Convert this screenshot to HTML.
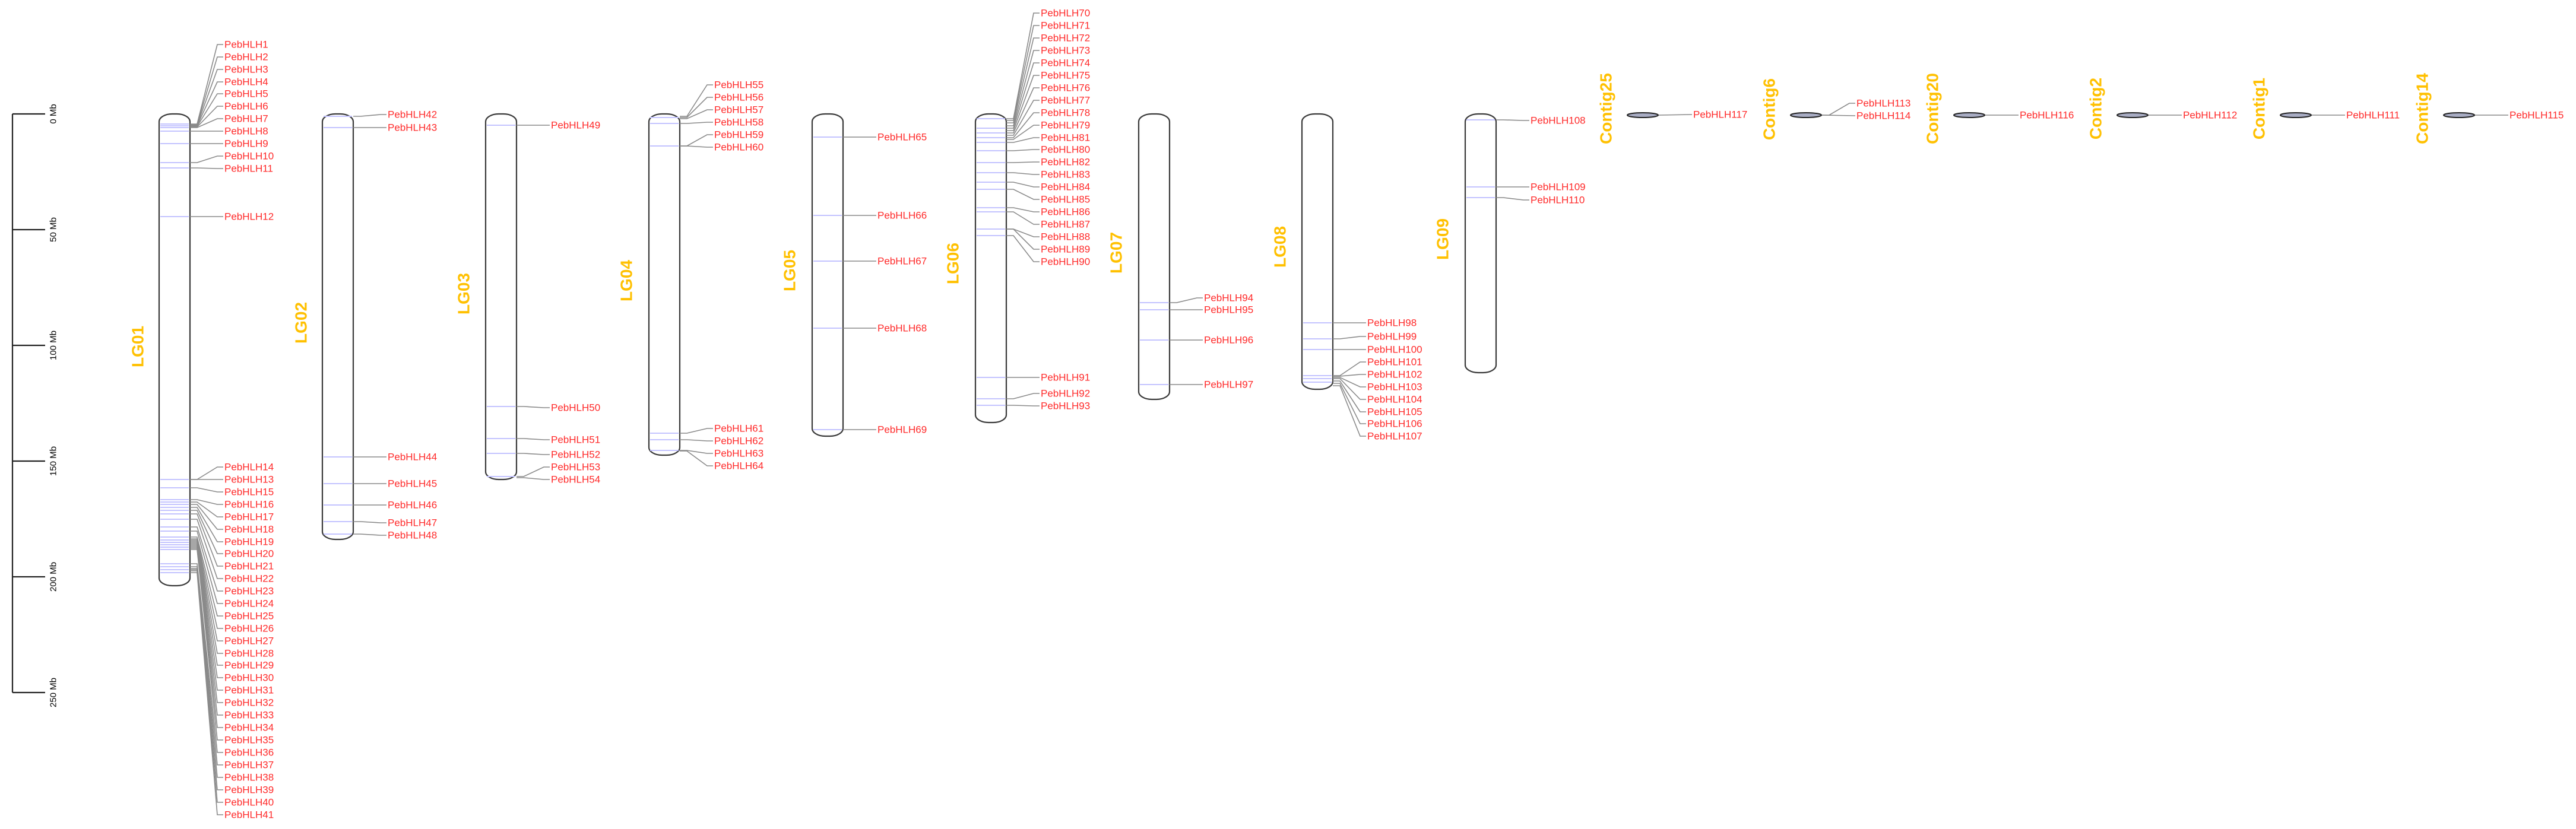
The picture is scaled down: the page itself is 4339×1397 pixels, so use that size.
<!DOCTYPE html>
<html><head><meta charset="utf-8"><style>
html,body{margin:0;padding:0;background:#fff;}
svg{display:block;}
.c{fill:#fff;stroke:#3a3a3a;stroke-width:2.2;}
.m{stroke:#c4c4ff;stroke-width:2;}
.l{fill:none;stroke:#8a8a8a;stroke-width:1.6;}
.t{font-family:"Liberation Sans",Arial,sans-serif;font-size:17px;fill:#ff2a2a;}
.g{font-family:"Liberation Sans",Arial,sans-serif;font-size:28px;font-weight:bold;fill:#ffc000;}
.s{font-family:"Liberation Sans",Arial,sans-serif;font-size:15px;fill:#000;}
.e{fill:#a9adc4;stroke:#222;stroke-width:2;}
</style></head><body>
<svg width="4339" height="1397" viewBox="0 0 4339 1397" xmlns="http://www.w3.org/2000/svg">
<!-- scale bar -->
<g stroke="#222" stroke-width="2.2">
<line x1="21" y1="192" x2="21" y2="1167"/>
<line x1="21" y1="192" x2="76" y2="192"/>
<line x1="21" y1="387" x2="76" y2="387"/>
<line x1="21" y1="582" x2="76" y2="582"/>
<line x1="21" y1="777" x2="76" y2="777"/>
<line x1="21" y1="972" x2="76" y2="972"/>
<line x1="21" y1="1167" x2="76" y2="1167"/>
</g>
<g class="s" text-anchor="middle" dominant-baseline="central">
<text transform="translate(90,192) rotate(-90)">0 Mb</text>
<text transform="translate(90,387) rotate(-90)">50 Mb</text>
<text transform="translate(90,582) rotate(-90)">100 Mb</text>
<text transform="translate(90,777) rotate(-90)">150 Mb</text>
<text transform="translate(90,972) rotate(-90)">200 Mb</text>
<text transform="translate(90,1167) rotate(-90)">250 Mb</text>
</g>

<!-- chromosomes -->
<rect class="c" x="268" y="192" width="52" height="795" rx="22" ry="13"/>
<rect class="c" x="543" y="192" width="52" height="717" rx="22" ry="13"/>
<rect class="c" x="818" y="192" width="52" height="616" rx="22" ry="13"/>
<rect class="c" x="1093" y="192" width="52" height="575" rx="22" ry="13"/>
<rect class="c" x="1368" y="192" width="52" height="543" rx="22" ry="13"/>
<rect class="c" x="1643" y="192" width="52" height="520" rx="22" ry="13"/>
<rect class="c" x="1918" y="192" width="52" height="481" rx="22" ry="13"/>
<rect class="c" x="2193" y="192" width="52" height="464" rx="22" ry="13"/>
<rect class="c" x="2468" y="192" width="52" height="436" rx="22" ry="13"/>

<!-- LG labels -->
<g class="g" text-anchor="middle" dominant-baseline="central">
<text transform="translate(232,584) rotate(-90)">LG01</text>
<text transform="translate(507,544) rotate(-90)">LG02</text>
<text transform="translate(781,495) rotate(-90)">LG03</text>
<text transform="translate(1055,473) rotate(-90)">LG04</text>
<text transform="translate(1330,456) rotate(-90)">LG05</text>
<text transform="translate(1605,444) rotate(-90)">LG06</text>
<text transform="translate(1880,426) rotate(-90)">LG07</text>
<text transform="translate(2156,416) rotate(-90)">LG08</text>
<text transform="translate(2430,403) rotate(-90)">LG09</text>
<text transform="translate(2705,183) rotate(-90)">Contig25</text>
<text transform="translate(2980,184) rotate(-90)">Contig6</text>
<text transform="translate(3255,183) rotate(-90)">Contig20</text>
<text transform="translate(3530,183) rotate(-90)">Contig2</text>
<text transform="translate(3805,183) rotate(-90)">Contig1</text>
<text transform="translate(4080,183) rotate(-90)">Contig14</text>
</g>

<!-- LG01 markers -->
<g class="m">
<line x1="270" x2="318" y1="209" y2="209"/><line x1="270" x2="318" y1="212" y2="212"/><line x1="270" x2="318" y1="215" y2="215"/><line x1="270" x2="318" y1="221" y2="221"/><line x1="270" x2="318" y1="242" y2="242"/><line x1="270" x2="318" y1="274" y2="274"/><line x1="270" x2="318" y1="283" y2="283"/><line x1="270" x2="318" y1="365" y2="365"/>
<line x1="270" x2="318" y1="808" y2="808"/><line x1="270" x2="318" y1="822" y2="822"/><line x1="270" x2="318" y1="842" y2="842"/><line x1="270" x2="318" y1="846" y2="846"/><line x1="270" x2="318" y1="850" y2="850"/><line x1="270" x2="318" y1="855" y2="855"/><line x1="270" x2="318" y1="860" y2="860"/><line x1="270" x2="318" y1="866" y2="866"/><line x1="270" x2="318" y1="875" y2="875"/><line x1="270" x2="318" y1="888" y2="888"/><line x1="270" x2="318" y1="895" y2="895"/><line x1="270" x2="318" y1="905" y2="905"/><line x1="270" x2="318" y1="910" y2="910"/><line x1="270" x2="318" y1="914" y2="914"/><line x1="270" x2="318" y1="918" y2="918"/><line x1="270" x2="318" y1="922" y2="922"/><line x1="270" x2="318" y1="926" y2="926"/><line x1="270" x2="318" y1="950" y2="950"/><line x1="270" x2="318" y1="955" y2="955"/><line x1="270" x2="318" y1="960" y2="960"/><line x1="270" x2="318" y1="965" y2="965"/>
</g>
<g class="l">
<polyline points="320,209 332,209 366,75 376,75"/>
<polyline points="320,210 332,210 366,96 376,96"/>
<polyline points="320,211 332,211 366,117 376,117"/>
<polyline points="320,212 332,212 366,138 376,138"/>
<polyline points="320,213 332,213 366,158 376,158"/>
<polyline points="320,214 332,214 366,179 376,179"/>
<polyline points="320,215 332,215 366,200 376,200"/>
<polyline points="320,221 332,221 366,221 376,221"/>
<polyline points="320,242 332,242 366,242 376,242"/>
<polyline points="320,274 332,274 366,263 376,263"/>
<polyline points="320,283 332,283 366,284 376,284"/>
<polyline points="320,365 332,365 366,365 376,365"/>
<polyline points="320,808 332,808 366,787 376,787"/>
<polyline points="320,808 332,808 366,808 376,808"/>
<polyline points="320,822 332,822 366,829 376,829"/>
<polyline points="320,842 332,842 366,850 376,850"/>
<polyline points="320,846 332,846 366,871 376,871"/>
<polyline points="320,850 332,850 366,892 376,892"/>
<polyline points="320,855 332,855 366,913 376,913"/>
<polyline points="320,860 332,860 366,933 376,933"/>
<polyline points="320,866 332,866 366,954 376,954"/>
<polyline points="320,875 332,875 366,975 376,975"/>
<polyline points="320,888 332,888 366,996 376,996"/>
<polyline points="320,895 332,895 366,1017 376,1017"/>
<polyline points="320,905 332,905 366,1038 376,1038"/>
<polyline points="320,908 332,908 366,1059 376,1059"/>
<polyline points="320,910 332,910 366,1080 376,1080"/>
<polyline points="320,912 332,912 366,1101 376,1101"/>
<polyline points="320,914 332,914 366,1121 376,1121"/>
<polyline points="320,916 332,916 366,1142 376,1142"/>
<polyline points="320,918 332,918 366,1163 376,1163"/>
<polyline points="320,920 332,920 366,1184 376,1184"/>
<polyline points="320,922 332,922 366,1205 376,1205"/>
<polyline points="320,924 332,924 366,1226 376,1226"/>
<polyline points="320,926 332,926 366,1247 376,1247"/>
<polyline points="320,950 332,950 366,1268 376,1268"/>
<polyline points="320,955 332,955 366,1289 376,1289"/>
<polyline points="320,958 332,958 366,1310 376,1310"/>
<polyline points="320,960 332,960 366,1331 376,1331"/>
<polyline points="320,962 332,962 366,1352 376,1352"/>
<polyline points="320,965 332,965 366,1373 376,1373"/>
</g>
<g class="t" dominant-baseline="central">
<text x="378" y="75">PebHLH1</text><text x="378" y="96">PebHLH2</text><text x="378" y="117">PebHLH3</text><text x="378" y="138">PebHLH4</text><text x="378" y="158">PebHLH5</text><text x="378" y="179">PebHLH6</text><text x="378" y="200">PebHLH7</text><text x="378" y="221">PebHLH8</text><text x="378" y="242">PebHLH9</text><text x="378" y="263">PebHLH10</text><text x="378" y="284">PebHLH11</text><text x="378" y="365">PebHLH12</text>
<text x="378" y="787">PebHLH14</text><text x="378" y="808">PebHLH13</text><text x="378" y="829">PebHLH15</text><text x="378" y="850">PebHLH16</text><text x="378" y="871">PebHLH17</text><text x="378" y="892">PebHLH18</text><text x="378" y="913">PebHLH19</text><text x="378" y="933">PebHLH20</text><text x="378" y="954">PebHLH21</text><text x="378" y="975">PebHLH22</text><text x="378" y="996">PebHLH23</text><text x="378" y="1017">PebHLH24</text><text x="378" y="1038">PebHLH25</text><text x="378" y="1059">PebHLH26</text><text x="378" y="1080">PebHLH27</text><text x="378" y="1101">PebHLH28</text><text x="378" y="1121">PebHLH29</text><text x="378" y="1142">PebHLH30</text><text x="378" y="1163">PebHLH31</text><text x="378" y="1184">PebHLH32</text><text x="378" y="1205">PebHLH33</text><text x="378" y="1226">PebHLH34</text><text x="378" y="1247">PebHLH35</text><text x="378" y="1268">PebHLH36</text><text x="378" y="1289">PebHLH37</text><text x="378" y="1310">PebHLH38</text><text x="378" y="1331">PebHLH39</text><text x="378" y="1352">PebHLH40</text><text x="378" y="1373">PebHLH41</text>
</g>

<!-- LG02 -->
<g class="m">
<line x1="545" x2="593" y1="196" y2="196"/><line x1="545" x2="593" y1="215" y2="215"/><line x1="545" x2="593" y1="770" y2="770"/><line x1="545" x2="593" y1="815" y2="815"/><line x1="545" x2="593" y1="851" y2="851"/><line x1="545" x2="593" y1="879" y2="879"/><line x1="545" x2="593" y1="900" y2="900"/>
</g>
<g class="l">
<polyline points="595,196 607,196 641,193 651,193"/>
<polyline points="595,215 607,215 641,215 651,215"/>
<polyline points="595,770 607,770 641,770 651,770"/>
<polyline points="595,815 607,815 641,815 651,815"/>
<polyline points="595,851 607,851 641,851 651,851"/>
<polyline points="595,879 607,879 641,881 651,881"/>
<polyline points="595,900 607,900 641,902 651,902"/>
</g>
<g class="t" dominant-baseline="central">
<text x="653" y="193">PebHLH42</text><text x="653" y="215">PebHLH43</text><text x="653" y="770">PebHLH44</text><text x="653" y="815">PebHLH45</text><text x="653" y="851">PebHLH46</text><text x="653" y="881">PebHLH47</text><text x="653" y="902">PebHLH48</text>
</g>

<!-- LG03 -->
<g class="m">
<line x1="820" x2="868" y1="211" y2="211"/><line x1="820" x2="868" y1="685" y2="685"/><line x1="820" x2="868" y1="739" y2="739"/><line x1="820" x2="868" y1="764" y2="764"/><line x1="820" x2="868" y1="803" y2="803"/>
</g>
<g class="l">
<polyline points="870,211 882,211 916,211 926,211"/>
<polyline points="870,685 882,685 916,687 926,687"/>
<polyline points="870,739 882,739 916,741 926,741"/>
<polyline points="870,764 882,764 916,766 926,766"/>
<polyline points="870,803 882,803 916,787 926,787"/>
<polyline points="870,805 882,805 916,808 926,808"/>
</g>
<g class="t" dominant-baseline="central">
<text x="928" y="211">PebHLH49</text><text x="928" y="687">PebHLH50</text><text x="928" y="741">PebHLH51</text><text x="928" y="766">PebHLH52</text><text x="928" y="787">PebHLH53</text><text x="928" y="808">PebHLH54</text>
</g>

<!-- LG04 -->
<g class="m">
<line x1="1095" x2="1143" y1="198" y2="198"/><line x1="1095" x2="1143" y1="208" y2="208"/><line x1="1095" x2="1143" y1="246" y2="246"/><line x1="1095" x2="1143" y1="730" y2="730"/><line x1="1095" x2="1143" y1="741" y2="741"/><line x1="1095" x2="1143" y1="759" y2="759"/>
</g>
<g class="l">
<polyline points="1145,196 1157,196 1191,143 1201,143"/>
<polyline points="1145,198 1157,198 1191,164 1201,164"/>
<polyline points="1145,200 1157,200 1191,185 1201,185"/>
<polyline points="1145,208 1157,208 1191,206 1201,206"/>
<polyline points="1145,246 1157,246 1191,227 1201,227"/>
<polyline points="1145,246 1157,246 1191,248 1201,248"/>
<polyline points="1145,730 1157,730 1191,722 1201,722"/>
<polyline points="1145,741 1157,741 1191,743 1201,743"/>
<polyline points="1145,759 1157,759 1191,764 1201,764"/>
<polyline points="1145,760 1157,760 1191,785 1201,785"/>
</g>
<g class="t" dominant-baseline="central">
<text x="1203" y="143">PebHLH55</text><text x="1203" y="164">PebHLH56</text><text x="1203" y="185">PebHLH57</text><text x="1203" y="206">PebHLH58</text><text x="1203" y="227">PebHLH59</text><text x="1203" y="248">PebHLH60</text><text x="1203" y="722">PebHLH61</text><text x="1203" y="743">PebHLH62</text><text x="1203" y="764">PebHLH63</text><text x="1203" y="785">PebHLH64</text>
</g>

<!-- LG05 -->
<g class="m">
<line x1="1370" x2="1418" y1="231" y2="231"/><line x1="1370" x2="1418" y1="363" y2="363"/><line x1="1370" x2="1418" y1="440" y2="440"/><line x1="1370" x2="1418" y1="553" y2="553"/><line x1="1370" x2="1418" y1="724" y2="724"/>
</g>
<g class="l">
<polyline points="1420,231 1476,231"/>
<polyline points="1420,363 1476,363"/>
<polyline points="1420,440 1476,440"/>
<polyline points="1420,553 1476,553"/>
<polyline points="1420,724 1476,724"/>
</g>
<g class="t" dominant-baseline="central">
<text x="1478" y="231">PebHLH65</text><text x="1478" y="363">PebHLH66</text><text x="1478" y="440">PebHLH67</text><text x="1478" y="553">PebHLH68</text><text x="1478" y="724">PebHLH69</text>
</g>

<!-- LG06 -->
<g class="m">
<line x1="1645" x2="1693" y1="200" y2="200"/><line x1="1645" x2="1693" y1="216" y2="216"/><line x1="1645" x2="1693" y1="224" y2="224"/><line x1="1645" x2="1693" y1="232" y2="232"/><line x1="1645" x2="1693" y1="240" y2="240"/><line x1="1645" x2="1693" y1="254" y2="254"/><line x1="1645" x2="1693" y1="274" y2="274"/><line x1="1645" x2="1693" y1="291" y2="291"/><line x1="1645" x2="1693" y1="307" y2="307"/><line x1="1645" x2="1693" y1="319" y2="319"/><line x1="1645" x2="1693" y1="350" y2="350"/><line x1="1645" x2="1693" y1="357" y2="357"/><line x1="1645" x2="1693" y1="386" y2="386"/><line x1="1645" x2="1693" y1="397" y2="397"/><line x1="1645" x2="1693" y1="636" y2="636"/><line x1="1645" x2="1693" y1="672" y2="672"/><line x1="1645" x2="1693" y1="683" y2="683"/>
</g>
<g class="l">
<polyline points="1695,200 1707,200 1741,22 1751,22"/>
<polyline points="1695,203 1707,203 1741,43 1751,43"/>
<polyline points="1695,207 1707,207 1741,64 1751,64"/>
<polyline points="1695,212 1707,212 1741,85 1751,85"/>
<polyline points="1695,216 1707,216 1741,106 1751,106"/>
<polyline points="1695,220 1707,220 1741,127 1751,127"/>
<polyline points="1695,224 1707,224 1741,148 1751,148"/>
<polyline points="1695,228 1707,228 1741,169 1751,169"/>
<polyline points="1695,232 1707,232 1741,190 1751,190"/>
<polyline points="1695,235 1707,235 1741,211 1751,211"/>
<polyline points="1695,240 1707,240 1741,232 1751,232"/>
<polyline points="1695,254 1707,254 1741,252 1751,252"/>
<polyline points="1695,274 1707,274 1741,273 1751,273"/>
<polyline points="1695,291 1707,291 1741,294 1751,294"/>
<polyline points="1695,307 1707,307 1741,315 1751,315"/>
<polyline points="1695,319 1707,319 1741,336 1751,336"/>
<polyline points="1695,350 1707,350 1741,357 1751,357"/>
<polyline points="1695,357 1707,357 1741,378 1751,378"/>
<polyline points="1695,386 1707,386 1741,399 1751,399"/>
<polyline points="1695,386 1707,386 1741,420 1751,420"/>
<polyline points="1695,397 1707,397 1741,441 1751,441"/>
<polyline points="1695,636 1707,636 1741,636 1751,636"/>
<polyline points="1695,672 1707,672 1741,663 1751,663"/>
<polyline points="1695,683 1707,683 1741,684 1751,684"/>
</g>
<g class="t" dominant-baseline="central">
<text x="1753" y="22">PebHLH70</text><text x="1753" y="43">PebHLH71</text><text x="1753" y="64">PebHLH72</text><text x="1753" y="85">PebHLH73</text><text x="1753" y="106">PebHLH74</text><text x="1753" y="127">PebHLH75</text><text x="1753" y="148">PebHLH76</text><text x="1753" y="169">PebHLH77</text><text x="1753" y="190">PebHLH78</text><text x="1753" y="211">PebHLH79</text><text x="1753" y="232">PebHLH81</text><text x="1753" y="252">PebHLH80</text><text x="1753" y="273">PebHLH82</text><text x="1753" y="294">PebHLH83</text><text x="1753" y="315">PebHLH84</text><text x="1753" y="336">PebHLH85</text><text x="1753" y="357">PebHLH86</text><text x="1753" y="378">PebHLH87</text><text x="1753" y="399">PebHLH88</text><text x="1753" y="420">PebHLH89</text><text x="1753" y="441">PebHLH90</text><text x="1753" y="636">PebHLH91</text><text x="1753" y="663">PebHLH92</text><text x="1753" y="684">PebHLH93</text>
</g>

<!-- LG07 -->
<g class="m">
<line x1="1920" x2="1968" y1="510" y2="510"/><line x1="1920" x2="1968" y1="522" y2="522"/><line x1="1920" x2="1968" y1="573" y2="573"/><line x1="1920" x2="1968" y1="648" y2="648"/>
</g>
<g class="l">
<polyline points="1970,510 1982,510 2016,502 2026,502"/>
<polyline points="1970,522 2026,522"/>
<polyline points="1970,573 2026,573"/>
<polyline points="1970,648 2026,648"/>
</g>
<g class="t" dominant-baseline="central">
<text x="2028" y="502">PebHLH94</text><text x="2028" y="522">PebHLH95</text><text x="2028" y="573">PebHLH96</text><text x="2028" y="648">PebHLH97</text>
</g>

<!-- LG08 -->
<g class="m">
<line x1="2195" x2="2243" y1="544" y2="544"/><line x1="2195" x2="2243" y1="571" y2="571"/><line x1="2195" x2="2243" y1="589" y2="589"/><line x1="2195" x2="2243" y1="633" y2="633"/><line x1="2195" x2="2243" y1="638" y2="638"/><line x1="2195" x2="2243" y1="644" y2="644"/>
</g>
<g class="l">
<polyline points="2245,544 2301,544"/>
<polyline points="2245,571 2257,571 2291,567 2301,567"/>
<polyline points="2245,589 2301,589"/>
<polyline points="2245,633 2257,633 2291,610 2301,610"/>
<polyline points="2245,634 2257,634 2291,631 2301,631"/>
<polyline points="2245,636 2257,636 2291,652 2301,652"/>
<polyline points="2245,638 2257,638 2291,673 2301,673"/>
<polyline points="2245,642 2257,642 2291,694 2301,694"/>
<polyline points="2245,646 2257,646 2291,714 2301,714"/>
<polyline points="2245,650 2257,650 2291,735 2301,735"/>
</g>
<g class="t" dominant-baseline="central">
<text x="2303" y="544">PebHLH98</text><text x="2303" y="567">PebHLH99</text><text x="2303" y="589">PebHLH100</text><text x="2303" y="610">PebHLH101</text><text x="2303" y="631">PebHLH102</text><text x="2303" y="652">PebHLH103</text><text x="2303" y="673">PebHLH104</text><text x="2303" y="694">PebHLH105</text><text x="2303" y="714">PebHLH106</text><text x="2303" y="735">PebHLH107</text>
</g>

<!-- LG09 -->
<g class="m">
<line x1="2470" x2="2518" y1="202" y2="202"/><line x1="2470" x2="2518" y1="315" y2="315"/><line x1="2470" x2="2518" y1="333" y2="333"/>
</g>
<g class="l">
<polyline points="2520,202 2532,202 2566,203 2576,203"/>
<polyline points="2520,315 2576,315"/>
<polyline points="2520,333 2532,333 2566,337 2576,337"/>
</g>
<g class="t" dominant-baseline="central">
<text x="2578" y="203">PebHLH108</text><text x="2578" y="315">PebHLH109</text><text x="2578" y="337">PebHLH110</text>
</g>

<!-- contigs -->
<ellipse class="e" cx="2767" cy="194" rx="26" ry="4"/>
<ellipse class="e" cx="3042" cy="194" rx="26" ry="4"/>
<ellipse class="e" cx="3317" cy="194" rx="26" ry="4"/>
<ellipse class="e" cx="3592" cy="194" rx="26" ry="4"/>
<ellipse class="e" cx="3867" cy="194" rx="26" ry="4"/>
<ellipse class="e" cx="4142" cy="194" rx="26" ry="4"/>
<g class="l">
<polyline points="2794,194 2850,193"/>
<polyline points="3069,194 3081,194 3115,174 3125,174"/>
<polyline points="3069,194 3125,195"/>
<polyline points="3344,194 3400,194"/>
<polyline points="3619,194 3675,194"/>
<polyline points="3894,194 3950,194"/>
<polyline points="4169,194 4225,194"/>
</g>
<g class="t" dominant-baseline="central">
<text x="2852" y="193">PebHLH117</text>
<text x="3127" y="174">PebHLH113</text><text x="3127" y="195">PebHLH114</text>
<text x="3402" y="194">PebHLH116</text>
<text x="3677" y="194">PebHLH112</text>
<text x="3952" y="194">PebHLH111</text>
<text x="4227" y="194">PebHLH115</text>
</g>
</svg>
</body></html>
